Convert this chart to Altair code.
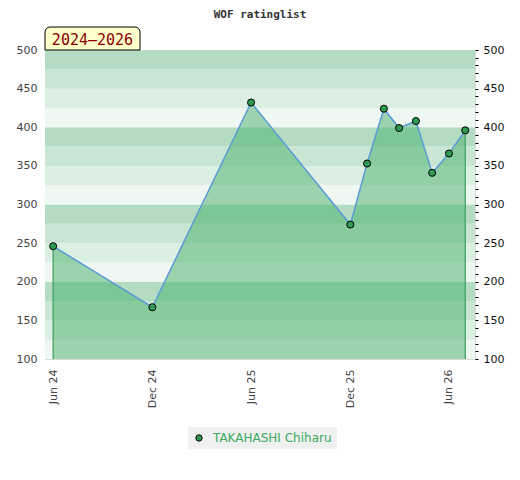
import altair as alt
import pandas as pd

# ---- data ----
dates = ["2024-06-01", "2024-12-01", "2025-06-01", "2025-12-01", "2026-01-01",
         "2026-02-01", "2026-03-01", "2026-04-01", "2026-05-01", "2026-06-01",
         "2026-07-01"]
ratings = [246, 167, 432, 274, 353, 424, 399, 408, 341, 366, 396]
player = "TAKAHASHI Chiharu"
badge_text = "2024–2026"
title_text = "WOF ratinglist"

band_starts = list(range(100, 500, 25))
band_colors = ["#eef7f1", "#dcefe3", "#c8e6d3", "#b3dcc3"]  # by position within each hundred

y_left_ticks = list(range(100, 501, 50))
y_right_ticks = list(range(100, 501, 10))

df = pd.DataFrame({"date": dates, "rating": ratings, "player": [player] * len(dates)})
ends = df.iloc[[0, len(df) - 1]]
bands = pd.DataFrame({
    "lo": band_starts,
    "hi": [b + 25 for b in band_starts],
    "col": [band_colors[(b % 100) // 25] for b in band_starts],
})
badge = pd.DataFrame({"label": [badge_text]})

ydom = alt.Scale(domain=[100, 500], zero=False, nice=False)
xscale = alt.Scale(type="utc",
                   domain=[alt.DateTime(year=2024, month=5, date=17, utc=True),
                           alt.DateTime(year=2026, month=7, date=19, utc=True)])
xvals = [alt.DateTime(year=2024, month=6, date=1, utc=True),
         alt.DateTime(year=2024, month=12, date=1, utc=True),
         alt.DateTime(year=2025, month=6, date=1, utc=True),
         alt.DateTime(year=2025, month=12, date=1, utc=True),
         alt.DateTime(year=2026, month=6, date=1, utc=True)]

X = alt.X("date:T", scale=xscale,
          axis=alt.Axis(values=xvals, format="%b %y", labelAngle=270, ticks=False,
                        domain=False, grid=False, title=None, labelColor="#444",
                        labelFontSize=11, labelPadding=10, labelFont="DejaVu Sans"))

bands_layer = alt.Chart(bands).mark_rect().encode(
    y=alt.Y("lo:Q", scale=ydom,
            axis=alt.Axis(orient="left", values=y_left_ticks, ticks=False, domain=False,
                          grid=False, title=None, labelColor="#444", labelFontSize=11,
                          labelPadding=8, labelFont="DejaVu Sans")),
    y2="hi:Q",
    fill=alt.Fill("col:N", scale=None),
)

area = alt.Chart(df).mark_area(color="#48af6b", opacity=0.5).encode(
    x=X, y=alt.Y("rating:Q", scale=ydom, axis=None), y2=alt.datum(100))

line = alt.Chart(df).mark_line(color="#5b9bd5", strokeWidth=1.5).encode(
    x=X, y=alt.Y("rating:Q", scale=ydom, axis=None))

rules = alt.Chart(ends).mark_rule(color="#3a9e5c", strokeWidth=1.2).encode(
    x=X, y=alt.Y("rating:Q", scale=ydom, axis=None), y2=alt.datum(100))

points = alt.Chart(df).mark_point(filled=True, stroke="black", strokeWidth=1,
                                  size=50, opacity=1).encode(
    x=X,
    y=alt.Y("rating:Q", scale=ydom,
            axis=alt.Axis(orient="right", values=y_right_ticks,
                          labelExpr="datum.value % 50 == 0 ? datum.label : ''",
                          tickSize=3, tickColor="black", domain=False, grid=False,
                          title=None, labelColor="#111", labelFontSize=11,
                          labelOverlap=False, labelPadding=5, labelFont="DejaVu Sans")),
    color=alt.Color("player:N", scale=alt.Scale(range=["#2e9a52"]),
                    legend=alt.Legend(orient="none", legendX=143, legendY=377,
                                      title=None, fillColor="#f0f0f0", padding=5,
                                      labelColor="#3aaa5e", labelFontSize=12,
                                      labelFont="DejaVu Sans",
                                      symbolStrokeColor="black", symbolStrokeWidth=1,
                                      symbolSize=40, symbolType="circle",
                                      labelOffset=8)),
)

badge_rect = alt.Chart(badge).mark_rect(fill="#ffffcc", stroke="black", strokeWidth=1,
                                        cornerRadiusTopLeft=5,
                                        cornerRadiusTopRight=5).encode(
    x=alt.value(0), x2=alt.value(95), y=alt.value(-23), y2=alt.value(0))

badge_label = alt.Chart(badge).mark_text(font="DejaVu Sans Mono", fontSize=15,
                                         color="#8b0000", align="center",
                                         baseline="middle").encode(
    x=alt.value(47.5), y=alt.value(-10.5), text="label:N")

chart = alt.layer(bands_layer, area, line, rules, points, badge_rect, badge_label).resolve_scale(
    y="independent"
).properties(
    width=430, height=309,
    autosize="none",
    padding={"left": 37, "top": 42, "right": 35, "bottom": 110},
    title=alt.TitleParams(title_text, font="DejaVu Sans Mono", fontSize=11,
                          fontWeight="bold", color="#333", anchor="middle",
                          frame="group", offset=7),
).configure_view(stroke="#d8d8d8", strokeWidth=1)

chart.save("out.html", embed_options={"renderer": "svg", "actions": False})
